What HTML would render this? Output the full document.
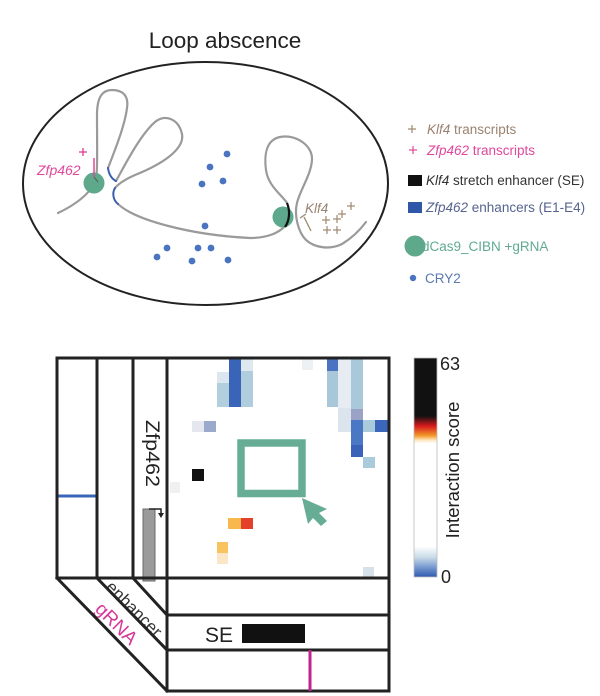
<!DOCTYPE html>
<html>
<head>
<meta charset="utf-8">
<style>
  html,body{margin:0;padding:0;background:#fff;}
  svg{display:block;}
  text{font-family:"Liberation Sans", sans-serif;}
</style>
</head>
<body>
<svg width="600" height="696" viewBox="0 0 600 696" xmlns="http://www.w3.org/2000/svg">
  <rect x="0" y="0" width="600" height="696" fill="#fff"/>

  <!-- ===== TOP: Loop abscence ===== -->
  <text x="225" y="48" font-size="22.5" fill="#222" text-anchor="middle">Loop abscence</text>
  <ellipse cx="205.5" cy="183.5" rx="182.5" ry="121.5" fill="none" stroke="#222" stroke-width="2"/>

  <!-- chromatin -->
  <g fill="none" stroke="#9a9a9a" stroke-width="2.2" stroke-linecap="round">
    <path d="M58,213 C75,205 88,195 95,183 C98,175 97,150 97,115 C97,96 103,90 112,90 C122,90 129,95 127,108 C125,125 115,150 108,168"/>
    <path d="M116,181 C125,165 140,135 155,122 C166,113 179,120 182,134 C185,150 160,165 135,175 C126,179 119,183 115,188"/>
    <path d="M118,204 C135,220 190,235 250,238 C265,238 278,234 285,226"/>
    <path d="M287,203 C282,195 268,186 266,170 C264,155 266,140 280,137 C295,134 313,145 312,160 C311,175 300,190 297,203 C294,215 298,232 306,240 C315,248 330,250 342,244 C352,238 360,230 366,222"/>
  </g>
  <g fill="none" stroke="#3a5fb0" stroke-width="2" stroke-linecap="round">
    <path d="M108,168 C109,175 112,179 116,181"/>
    <path d="M115,188 C112,193 113,200 118,204"/>
  </g>

  <!-- dCas9 circles -->
  <circle cx="94" cy="183" r="10.5" fill="#5ea88c"/>
  <circle cx="283" cy="217" r="10.5" fill="#5ea88c"/>
  <path d="M285,227 C290,220 290,210 287,203" fill="none" stroke="#111" stroke-width="2.2"/>

  <!-- Zfp462 gene marker -->
  <line x1="94" y1="158" x2="94" y2="177" stroke="#e0489c" stroke-width="1.5"/>
  <line x1="94" y1="177" x2="98" y2="182" stroke="#555" stroke-width="1"/>
  <text x="37" y="175" font-size="14" font-style="italic" fill="#e0489c">Zfp462</text>
  <g stroke="#e0489c" stroke-width="1.4">
    <line x1="79" y1="152" x2="87" y2="152"/><line x1="83" y1="148" x2="83" y2="156"/>
  </g>

  <!-- Klf4 gene marker -->
  <g stroke="#a08870" stroke-width="1.3" fill="none">
    <polyline points="300,218 306,214"/>
    <line x1="304" y1="217" x2="311" y2="231"/>
  </g>
  <text x="305" y="213" font-size="13.5" font-style="italic" fill="#9b8270">Klf4</text>
  <g stroke="#a08870" stroke-width="1.2">
    <line x1="347" y1="206" x2="355" y2="206"/><line x1="351" y1="202" x2="351" y2="210"/>
    <line x1="322" y1="220" x2="330" y2="220"/><line x1="326" y1="216" x2="326" y2="224"/>
    <line x1="333" y1="219" x2="341" y2="219"/><line x1="337" y1="215" x2="337" y2="223"/>
    <line x1="338" y1="214" x2="346" y2="214"/><line x1="342" y1="210" x2="342" y2="218"/>
    <line x1="323" y1="230" x2="331" y2="230"/><line x1="327" y1="226" x2="327" y2="234"/>
    <line x1="333" y1="230" x2="341" y2="230"/><line x1="337" y1="226" x2="337" y2="234"/>
  </g>

  <!-- CRY2 dots -->
  <g fill="#4a74c0">
    <circle cx="227" cy="154" r="3.4"/>
    <circle cx="210" cy="167" r="3.4"/>
    <circle cx="202" cy="184" r="3.4"/>
    <circle cx="223" cy="181" r="3.4"/>
    <circle cx="205" cy="226" r="3.4"/>
    <circle cx="167" cy="248" r="3.4"/>
    <circle cx="157" cy="257" r="3.4"/>
    <circle cx="198" cy="248" r="3.4"/>
    <circle cx="211" cy="248" r="3.4"/>
    <circle cx="192" cy="261" r="3.4"/>
    <circle cx="228" cy="260" r="3.4"/>
  </g>

  <!-- Legend -->
  <g stroke="#a08870" stroke-width="1.2">
    <line x1="408" y1="129" x2="416" y2="129"/><line x1="412" y1="125" x2="412" y2="133"/>
  </g>
  <text x="427" y="134" font-size="13.5" fill="#9b8270"><tspan font-style="italic">Klf4</tspan> transcripts</text>
  <g stroke="#e0489c" stroke-width="1.2">
    <line x1="409" y1="150" x2="417" y2="150"/><line x1="413" y1="146" x2="413" y2="154"/>
  </g>
  <text x="427" y="155" font-size="13.5" fill="#e0489c"><tspan font-style="italic">Zfp462</tspan> transcripts</text>
  <rect x="408" y="175" width="14" height="11" fill="#111"/>
  <text x="426" y="185" font-size="13.5" fill="#333"><tspan font-style="italic">Klf4</tspan> stretch enhancer (SE)</text>
  <rect x="408" y="202" width="14" height="11" fill="#2e57a8"/>
  <text x="426" y="212" font-size="13.5" fill="#56638f"><tspan font-style="italic">Zfp462</tspan> enhancers (E1-E4)</text>
  <circle cx="415" cy="246" r="10.5" fill="#5ea88c"/>
  <text x="422" y="251" font-size="13.5" fill="#5faa92">dCas9_CIBN +gRNA</text>
  <circle cx="413" cy="278" r="3.2" fill="#4a74c0"/>
  <text x="425" y="283" font-size="13.5" fill="#5a7ab0">CRY2</text>

  <!-- ===== BOTTOM: heatmap ===== -->
  <g>
    <rect x="217" y="372" width="12" height="11" fill="#dbe6ee"/>
    <rect x="217" y="383" width="12" height="24" fill="#b3cfde"/>
    <rect x="229" y="358" width="12" height="49" fill="#3a64b8"/>
    <rect x="241" y="358" width="12" height="13" fill="#dfe8ef"/>
    <rect x="241" y="371" width="12" height="36" fill="#b0cddd"/>
    <rect x="302" y="358" width="11" height="12" fill="#eef1f4"/>

    <rect x="327" y="358" width="11" height="13" fill="#4a74c2"/>
    <rect x="327" y="371" width="11" height="36" fill="#a8c8da"/>
    <rect x="338" y="358" width="13" height="50" fill="#e6ecf1"/>
    <rect x="338" y="408" width="13" height="24" fill="#dce5ee"/>
    <rect x="351" y="358" width="12" height="51" fill="#a9c9da"/>
    <rect x="351" y="409" width="12" height="11" fill="#9aa3c6"/>
    <rect x="351" y="420" width="12" height="25" fill="#4a78c4"/>
    <rect x="351" y="445" width="12" height="12" fill="#3a62b8"/>
    <rect x="363" y="420" width="12" height="12" fill="#a9cbdc"/>
    <rect x="375" y="420" width="13" height="12" fill="#3b66ba"/>
    <rect x="363" y="457" width="12" height="11" fill="#a9cbdc"/>

    <rect x="192" y="421" width="12" height="11" fill="#e4e8ee"/>
    <rect x="204" y="421" width="12" height="11" fill="#9aa9cc"/>

    <rect x="192" y="469" width="12" height="12" fill="#111"/>
    <rect x="170" y="482" width="10" height="11" fill="#eef0f2"/>

    <rect x="228" y="518" width="13" height="11" fill="#f8b84e"/>
    <rect x="241" y="518" width="12" height="11" fill="#e5402a"/>
    <rect x="217" y="542" width="11" height="11" fill="#f9c460"/>
    <rect x="217" y="553" width="11" height="11" fill="#fbe6c8"/>
    <rect x="363" y="567" width="11" height="11" fill="#d6e1ea"/>
  </g>

  <!-- green box and cursor -->
  <rect x="241" y="443" width="61" height="50.5" fill="none" stroke="#67ad96" stroke-width="7.5"/>
  <polygon points="302,498 327,509 319,513 327,521 321,526 313,518 308,524" fill="#67ad96"/>

  <!-- Zfp462 gene track -->
  <rect x="143" y="509" width="12" height="72" fill="#9a9a9a" stroke="#6a6a6a" stroke-width="1"/>
  <polyline points="149,509 161,509 161,514" fill="none" stroke="#222" stroke-width="1.5"/>
  <polygon points="158,513 164,513 161,518" fill="#222"/>
  <text transform="translate(146,453.5) rotate(90)" font-size="19" fill="#222" text-anchor="middle" textLength="67" lengthAdjust="spacingAndGlyphs">Zfp462</text>

  <!-- enhancer blue line -->
  <line x1="57" y1="496" x2="97" y2="496" stroke="#3a64b8" stroke-width="3"/>

  <!-- diagonal labels -->
  <defs>
    <clipPath id="geneclip"><polygon points="135,579 166,579 166,613"/></clipPath>
  </defs>
  <text transform="translate(146,592) rotate(45)" font-size="17" fill="#aaa" text-anchor="middle" clip-path="url(#geneclip)">gene</text>
  <text transform="translate(130,613) rotate(45)" font-size="17" fill="#333" text-anchor="middle">enhancer</text>
  <text transform="translate(112,628) rotate(45)" font-size="19" fill="#d6399a" text-anchor="middle">gRNA</text>

  <!-- grid lines -->
  <g stroke="#222" stroke-width="3" fill="none" stroke-linecap="square">
    <line x1="57" y1="358" x2="389" y2="358"/>
    <line x1="57" y1="358" x2="57" y2="578"/>
    <line x1="97" y1="358" x2="97" y2="578"/>
    <line x1="133" y1="358" x2="133" y2="578"/>
    <line x1="167" y1="358" x2="167" y2="691"/>
    <line x1="389" y1="358" x2="389" y2="691"/>
    <line x1="57" y1="578" x2="389" y2="578"/>
    <line x1="167" y1="615" x2="389" y2="615"/>
    <line x1="167" y1="650" x2="389" y2="650"/>
    <line x1="167" y1="691" x2="389" y2="691"/>
    <line x1="57" y1="578" x2="167" y2="691"/>
    <line x1="97" y1="578" x2="167" y2="650"/>
    <line x1="133" y1="578" x2="167" y2="615"/>
  </g>

  <!-- SE track -->
  <text x="205" y="642" font-size="21" fill="#222">SE</text>
  <rect x="242" y="624" width="63" height="19" fill="#111"/>
  <!-- gRNA track -->
  <line x1="310" y1="650" x2="310" y2="691" stroke="#c0238f" stroke-width="3"/>

  <!-- colorbar -->
  <defs>
    <linearGradient id="cb" x1="0" y1="0" x2="0" y2="1">
      <stop offset="0" stop-color="#111"/>
      <stop offset="0.265" stop-color="#111"/>
      <stop offset="0.31" stop-color="#d7191c"/>
      <stop offset="0.355" stop-color="#f39a2a"/>
      <stop offset="0.375" stop-color="#fde6c0"/>
      <stop offset="0.39" stop-color="#ffffff"/>
      <stop offset="0.86" stop-color="#ffffff"/>
      <stop offset="0.91" stop-color="#cadbe8"/>
      <stop offset="0.95" stop-color="#7fa1d2"/>
      <stop offset="1" stop-color="#3059b0"/>
    </linearGradient>
  </defs>
  <rect x="414" y="358" width="23" height="219" fill="url(#cb)" stroke="#bbb" stroke-width="0.8"/>
  <text x="440" y="370" font-size="18" fill="#222">63</text>
  <text x="441" y="583" font-size="18" fill="#222">0</text>
  <text transform="translate(459,470) rotate(-90)" font-size="18.5" fill="#222" text-anchor="middle">Interaction score</text>
</svg>
</body>
</html>
